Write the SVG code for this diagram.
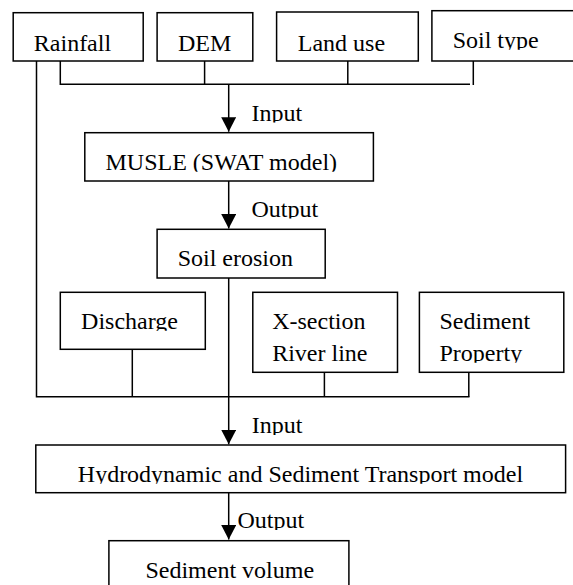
<svg xmlns="http://www.w3.org/2000/svg" width="573" height="585" viewBox="0 0 573 585">
<defs>
<style>
rect{fill:#fff;stroke:#000;stroke-width:1.5}
text{font-family:"Liberation Serif","Times New Roman",serif;font-size:24px;fill:#000;clip-path:url(#cut)}
.c{fill:none;stroke:#000;stroke-width:1.5}
</style>
<clipPath id="cut" clipPathUnits="objectBoundingBox"><rect x="-0.1" y="0" width="1.2" height="0.875" style="stroke:none"/></clipPath>
<marker id="ah" markerUnits="userSpaceOnUse" markerWidth="15" markerHeight="15" refX="14.5" refY="7.5" orient="auto"><path d="M0,0 L14.5,7.5 L0,15 z" fill="#000"/></marker>
</defs>
<rect width="573" height="585" style="stroke:none"/>
<g id="connectors">
<path class="c" d="M36.5,61 V396.7 H469.5"/>
<path class="c" d="M60.3,61 V84.3 H470 M204.6,61 V84.3 M347.8,61 V84.3 M473.3,61 V85"/>
<path class="c" d="M228.7,84.3 V131.7" marker-end="url(#ah)"/>
<path class="c" d="M228.7,181 V228.5" marker-end="url(#ah)"/>
<path class="c" d="M132.3,349.3 V396.7 M324.4,372.3 V396.7 M468.8,372.3 V396.7"/>
<path class="c" d="M228.7,278 V444.3" marker-end="url(#ah)"/>
<path class="c" d="M228.7,492.7 V539.5" marker-end="url(#ah)"/>
<text x="251.4" y="120.7">Input</text>
<text x="251.4" y="216.7">Output</text>
<text x="251.7" y="433.3">Input</text>
<text x="237.4" y="528.3">Output</text>
</g>
<g id="rainfall"><rect x="13.2" y="12.7" width="130" height="48.3"/><text x="33.8" y="51">Rainfall</text></g>
<g id="dem"><rect x="157.1" y="12.7" width="95.7" height="48.3"/><text x="178" y="51">DEM</text></g>
<g id="landuse"><rect x="276.6" y="12" width="141.7" height="49"/><text x="297.8" y="51">Land use</text></g>
<g id="soiltype"><rect x="431.9" y="10.7" width="150" height="50.3"/><text x="452.7" y="48">Soil type</text></g>
<g id="musle"><rect x="84.8" y="132.7" width="288.6" height="48.3"/><text x="105.5" y="170">MUSLE (SWAT model)</text></g>
<g id="soilerosion"><rect x="157.1" y="229.3" width="168.1" height="48.7"/><text x="177.7" y="265.5">Soil erosion</text></g>
<g id="discharge"><rect x="60.3" y="292.3" width="145" height="57"/><text x="81.1" y="329">Discharge</text></g>
<g id="xsection"><rect x="252.8" y="292.3" width="144.7" height="80"/><text x="272.2" y="329">X-section</text><text x="272.2" y="361">River line</text></g>
<g id="sediment"><rect x="419.4" y="292.3" width="144.4" height="80"/><text x="439.5" y="329">Sediment</text><text x="439.5" y="361">Property</text></g>
<g id="hydro"><rect x="35.8" y="445" width="529.8" height="47.7"/><text x="77.8" y="482">Hydrodynamic and Sediment Transport model</text></g>
<g id="sedvolume"><rect x="108.9" y="540.7" width="240" height="60"/><text x="145.4" y="578">Sediment volume</text></g>
</svg>
